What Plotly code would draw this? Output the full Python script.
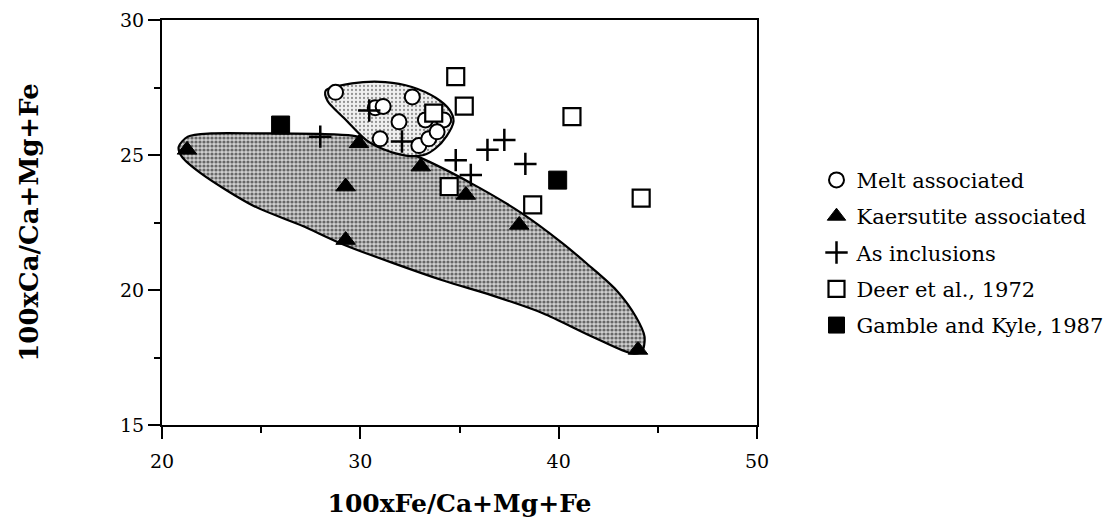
import plotly.graph_objects as go

# ---- data ----
melt_x = [28.75, 30.75, 31.15, 32.62, 31.95, 33.28, 34.2, 31.0, 32.95, 33.45, 33.87]
melt_y = [27.32, 26.75, 26.8, 27.15, 26.23, 26.3, 26.3, 25.6, 25.35, 25.6, 25.86]

kaer_x = [21.26, 29.93, 33.05, 29.26, 29.26, 35.32, 38.01, 44.0]
kaer_y = [25.19, 25.43, 24.57, 23.83, 21.85, 23.52, 22.41, 17.78]

incl_x = [27.98, 30.45, 32.1, 34.81, 35.57, 36.41, 37.26, 38.32]
incl_y = [25.68, 26.65, 25.5, 24.81, 24.26, 25.19, 25.56, 24.67]

deer_x = [34.81, 35.24, 33.7, 40.67, 34.48, 38.69, 44.16]
deer_y = [27.9, 26.81, 26.55, 26.42, 23.83, 23.15, 23.4]

gk_x = [25.98, 39.95]
gk_y = [26.11, 24.07]

# outline of the kaersutite-associated field
big_x = [20.84, 21.3, 22.5, 25.0, 28.0, 29.6, 30.6, 32.9, 35.6, 38.15, 40.2, 41.4,
         42.9, 43.9, 44.33, 44.2, 43.7, 41.7, 39.2, 36.6, 34.1, 29.2, 27.1, 24.6,
         22.0, 21.0, 20.84]
big_y = [25.3, 25.68, 25.8, 25.8, 25.78, 25.72, 25.55, 24.94, 23.95, 22.84, 21.73, 20.99,
         20.0, 19.0, 18.27, 17.72, 17.65, 18.27, 19.14, 19.81, 20.37, 21.67, 22.37, 23.12,
         24.3, 24.94, 25.3]

# outline of the melt-associated field
mfield_x = [28.25, 29.58, 31.26, 32.6, 33.8, 34.5, 34.7, 34.35, 33.8, 33.2, 32.3,
            31.2, 30.3, 29.2, 28.35, 28.25]
mfield_y = [27.38, 27.65, 27.7, 27.52, 27.12, 26.67, 26.25, 25.7, 25.25, 25.0, 24.98,
            25.2, 25.55, 26.35, 27.0, 27.38]

x_ticks = [20, 30, 40, 50]
y_ticks = [15, 20, 25, 30]

SERIF = "DejaVu Serif"

fig = go.Figure()

fig.add_trace(go.Scatter(
    x=big_x, y=big_y, mode="lines", fill="toself", showlegend=False, hoverinfo="skip",
    line=dict(color="black", width=2.2, shape="spline", smoothing=0.8),
    fillcolor="rgba(0,0,0,0)",
    fillpattern=dict(shape=".", fgcolor="black", bgcolor="#d0d0d0", size=4, solidity=0.5),
))
fig.add_trace(go.Scatter(
    x=mfield_x, y=mfield_y, mode="lines", fill="toself", showlegend=False, hoverinfo="skip",
    line=dict(color="black", width=2.2, shape="spline", smoothing=0.8),
    fillcolor="rgba(0,0,0,0)",
    fillpattern=dict(shape=".", fgcolor="#333333", bgcolor="#f0f0f0", size=4, solidity=0.25),
))

fig.add_trace(go.Scatter(
    x=melt_x, y=melt_y, mode="markers", name="Melt associated", legendgroup="a",
    marker=dict(symbol="circle", size=15, color="white", line=dict(color="black", width=2)),
))
fig.add_trace(go.Scatter(
    x=kaer_x, y=kaer_y, mode="markers", name="Kaersutite associated", legendgroup="b",
    marker=dict(symbol="triangle-up", size=17, color="black", line=dict(color="black", width=1)),
))
fig.add_trace(go.Scatter(
    x=incl_x, y=incl_y, mode="markers", name="As inclusions", legendgroup="c",
    marker=dict(symbol="cross-thin", size=16, color="black", line=dict(color="black", width=2.5)),
))
fig.add_trace(go.Scatter(
    x=deer_x, y=deer_y, mode="markers", name="Deer et al., 1972", legendgroup="d",
    marker=dict(symbol="square", size=17, color="white", line=dict(color="black", width=2.2)),
))
fig.add_trace(go.Scatter(
    x=gk_x, y=gk_y, mode="markers", name="Gamble and Kyle, 1987", legendgroup="e",
    marker=dict(symbol="square", size=18, color="black", line=dict(color="black", width=1)),
))

axis_common = dict(
    showline=True, linecolor="black", linewidth=2, mirror=True,
    ticks="outside", ticklen=12, tickwidth=2, tickcolor="black",
    showgrid=False, zeroline=False, automargin=False, ticklabeloverflow="allow",
    tickfont=dict(family=SERIF, size=19, color="black"),
)

fig.update_xaxes(
    range=[20, 50], tickvals=x_ticks, ticktext=[str(v) for v in x_ticks],
    minor=dict(ticks="outside", ticklen=6, tickwidth=2, tickcolor="black", dtick=5, tick0=20),
    ticklabelstandoff=6,
    title=dict(text="<b>100xFe/Ca+Mg+Fe</b>", font=dict(family=SERIF, size=25, color="black"), standoff=24),
    **axis_common,
)
fig.update_yaxes(
    range=[15, 30], tickvals=y_ticks, ticktext=[str(v) for v in y_ticks],
    minor=dict(ticks="outside", ticklen=6, tickwidth=2, tickcolor="black", dtick=2.5, tick0=15),
    title=dict(text="<b>100xCa/Ca+Mg+Fe</b>", font=dict(family=SERIF, size=26, color="black"), standoff=74),
    **axis_common,
)

fig.update_layout(
    width=1117, height=523,
    margin=dict(l=154, r=368, t=12, b=106),
    paper_bgcolor="white", plot_bgcolor="white",
    font=dict(family=SERIF, color="black"),
    legend=dict(
        x=1.1, y=0.655, xanchor="left", yanchor="top",
        font=dict(family=SERIF, size=21, color="black"),
        traceorder="grouped", tracegroupgap=6,
        bgcolor="rgba(0,0,0,0)", itemsizing="trace",
    ),
)

fig.write_html("out.html")
